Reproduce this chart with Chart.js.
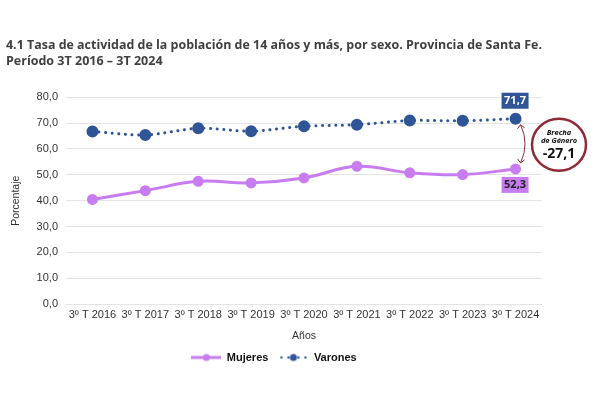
<!DOCTYPE html>
<html>
<head>
<meta charset="utf-8">
<script src="https://cdn.jsdelivr.net/npm/chart.js@4/dist/chart.umd.min.js"></script>
<style>
  html, body { margin: 0; padding: 0; background: #fff; }
  #wrap { width: 600px; height: 400px; position: relative; }
</style>
</head>
<body>
<div id="wrap"><canvas id="actividad" width="600" height="400"></canvas></div>
<script>
// datos
const periodos = ['3º T 2016', '3º T 2017', '3º T 2018', '3º T 2019', '3º T 2020',
                  '3º T 2021', '3º T 2022', '3º T 2023', '3º T 2024'];
const mujeres = [40.5, 43.9, 47.5, 46.9, 48.8, 53.3, 50.8, 50.1, 52.3];
const varones = [66.8, 65.4, 68.0, 66.9, 68.8, 69.4, 71.0, 70.9, 71.7];
const brecha = '-27,1';

const COLOR_MUJ = '#C77DF0';
const COLOR_VAR = '#2F5597';
const COLOR_BRECHA = '#8E2A35';

const fmt = v => v.toFixed(1).replace('.', ',');

// little images for the legend (line + dot)
function legendIcon(color, dotted) {
    const c = document.createElement('canvas');
    c.width = 30; c.height = 10;
    const g = c.getContext('2d');
    g.strokeStyle = color;
    g.fillStyle = color;
    if (dotted) {
        [3, 10, 20, 27].forEach(x => {
            g.beginPath(); g.arc(x, 5, 1.2, 0, Math.PI * 2); g.fill();
        });
    } else {
        g.lineWidth = 3;
        g.beginPath(); g.moveTo(0, 5); g.lineTo(30, 5); g.stroke();
    }
    g.beginPath(); g.arc(15, 5, 3.5, 0, Math.PI * 2); g.fill();
    return c;
}

// value boxes on the last point and the gender gap bubble
const extrasPlugin = {
    id: 'extras',
    afterDatasetsDraw(chart) {
        const ctx = chart.ctx;
        const last = periodos.length - 1;
        const pv = chart.getDatasetMeta(1).data[last];
        const pm = chart.getDatasetMeta(0).data[last];

        ctx.save();
        ctx.font = 'bold 11px "Open Sans"';
        ctx.textAlign = 'center';
        ctx.textBaseline = 'middle';

        // varones box above
        let t = fmt(varones[last]);
        ctx.fillStyle = COLOR_VAR;
        ctx.fillRect(pv.x - 14, pv.y - 26, 27, 16);
        ctx.fillStyle = '#fff';
        ctx.fillText(t, pv.x - 0.5, pv.y - 18);

        // mujeres box below
        t = fmt(mujeres[last]);
        ctx.fillStyle = COLOR_MUJ;
        ctx.fillRect(pm.x - 14, pm.y + 8, 27, 16);
        ctx.fillStyle = '#222';
        ctx.fillText(t, pm.x - 0.5, pm.y + 16);

        // curved double arrow between the two lines
        const ax = pv.x + 5;
        const y1 = pv.y + 6, y2 = pm.y - 6;
        ctx.strokeStyle = COLOR_BRECHA;
        ctx.lineWidth = 1;
        ctx.beginPath();
        ctx.moveTo(ax, y1);
        ctx.quadraticCurveTo(ax + 9, (y1 + y2) / 2, ax, y2);
        ctx.stroke();
        ctx.beginPath();
        ctx.moveTo(ax - 3, y1 + 4); ctx.lineTo(ax, y1); ctx.lineTo(ax + 4, y1 + 3);
        ctx.moveTo(ax - 3, y2 - 4); ctx.lineTo(ax, y2); ctx.lineTo(ax + 4, y2 - 3);
        ctx.stroke();

        // bubble
        const cx = chart.chartArea.right + 17;
        const cy = (pv.y + pm.y) / 2 + 1;
        ctx.lineWidth = 2.5;
        ctx.beginPath();
        ctx.ellipse(cx, cy, 27, 26, 0, 0, Math.PI * 2);
        ctx.fillStyle = '#fff';
        ctx.fill();
        ctx.stroke();
        ctx.fillStyle = '#111';
        ctx.font = 'italic bold 7.5px "Open Sans"';
        ctx.fillText('Brecha', cx, cy - 12);
        ctx.fillText('de Género', cx, cy - 4);
        ctx.font = 'bold 14px "Open Sans"';
        ctx.fillText(brecha, cx, cy + 9);
        ctx.restore();
    }
};

const ctx = document.getElementById('actividad').getContext('2d');
new Chart(ctx, {
    type: 'line',
    data: {
        labels: periodos,
        datasets: [
            {
                label: 'Mujeres',
                data: mujeres,
                borderColor: COLOR_MUJ,
                backgroundColor: COLOR_MUJ,
                borderWidth: 3,
                tension: 0.4,
                pointRadius: 4,
                pointHoverRadius: 4,
                order: 1
            },
            {
                label: 'Varones',
                data: varones,
                borderColor: COLOR_VAR,
                backgroundColor: COLOR_VAR,
                borderWidth: 3,
                borderDash: [0.1, 6.5],
                borderCapStyle: 'round',
                tension: 0.3,
                pointRadius: 4.5,
                pointHoverRadius: 4.5,
                order: 2
            }
        ]
    },
    options: {
        responsive: false,
        animation: false,
        devicePixelRatio: 1,
        layout: { padding: { left: 6, right: 58, top: 0, bottom: 27 } },
        plugins: {
            title: {
                display: true,
                align: 'start',
                text: ['4.1 Tasa de actividad de la población de 14 años y más, por sexo. Provincia de Santa Fe.',
                       'Período 3T 2016 – 3T 2024'],
                color: '#404040',
                font: { family: '"Open Sans"', size: 12.5, weight: 'bold', lineHeight: 1.25 },
                padding: { top: 38, bottom: 28 }
            },
            legend: {
                position: 'bottom',
                labels: {
                    usePointStyle: true,
                    pointStyleWidth: 30,
                    generateLabels: chart => chart.data.datasets.map((ds, i) => ({
                        text: ds.label,
                        pointStyle: legendIcon(ds.borderColor, i === 1),
                        fontColor: '#111',
                        datasetIndex: i,
                        lineWidth: 0,
                        strokeStyle: 'transparent',
                        fillStyle: 'transparent'
                    })),
                    font: { family: '"Liberation Sans"', size: 11, weight: 'bold' },
                    color: '#111',
                    padding: 10
                }
            },
            tooltip: { enabled: false }
        },
        scales: {
            x: {
                offset: true,
                grid: { display: false, drawTicks: false },
                border: { display: false },
                ticks: {
                    color: '#333',
                    padding: 4,
                    font: { family: '"Liberation Sans"', size: 11 },
                    maxRotation: 0,
                    autoSkip: false
                },
                title: {
                    display: true,
                    text: 'Años',
                    color: '#333',
                    font: { family: '"Liberation Sans"', size: 10.5 },
                    padding: { top: 4, bottom: 0 }
                }
            },
            y: {
                min: 0,
                max: 80,
                grid: { color: '#e4e4e4', drawTicks: false },
                border: { display: false },
                ticks: {
                    stepSize: 10,
                    padding: 8,
                    color: '#333',
                    font: { family: '"Liberation Sans"', size: 11 },
                    callback: v => fmt(v)
                },
                title: {
                    display: true,
                    text: 'Porcentaje',
                    color: '#333',
                    font: { family: '"Liberation Sans"', size: 10.5 },
                    padding: { bottom: 6 }
                }
            }
        }
    },
    plugins: [extrasPlugin]
});
</script>
</body>
</html>
